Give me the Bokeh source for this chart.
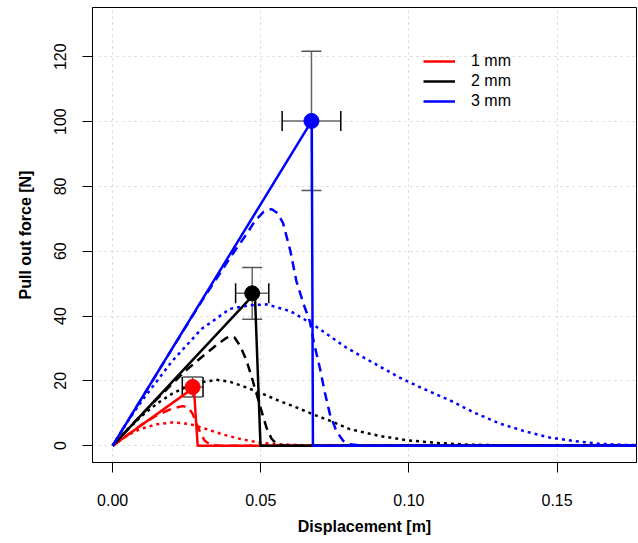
from bokeh.plotting import figure
from bokeh.models import (ColumnDataSource, Whisker, TeeHead, FixedTicker,
                          Legend, LegendItem, Range1d)
from bokeh.embed import file_html
from bokeh.resources import INLINE

# ---------------- data ----------------
x_ticks = [0.0, 0.05, 0.10, 0.15]
x_tick_labels = ["0.00", "0.05", "0.10", "0.15"]
y_ticks = [0, 20, 40, 60, 80, 100, 120]
y_tick_labels = ["0", "20", "40", "60", "80", "100", "120"]

series_names = ["1 mm", "2 mm", "3 mm"]
series_colors = ["red", "black", "blue"]

# solid lines (linear to peak, then drop)
solid_1_x = [0.0, 0.0274, 0.0287, 0.19]
solid_1_y = [0.0, 17.9, 0.0, 0.0]
solid_2_x = [0.0, 0.0480, 0.0499, 0.19]
solid_2_y = [0.0, 47.0, 0.0, 0.0]
solid_3_x = [0.0, 0.0672, 0.0676, 0.19]
solid_3_y = [0.0, 100.2, 0.0, 0.0]

# dashed curves
dashed_1_x = [0.0, 0.005, 0.010, 0.015, 0.020, 0.0235, 0.0255, 0.027, 0.0283, 0.0297, 0.0311, 0.033, 0.036, 0.19]
dashed_1_y = [0.0, 3.3, 6.6, 9.4, 11.4, 12.2, 11.8, 9.8, 6.7, 3.8, 1.5, 0.3, 0.0, 0.0]
dashed_2_x = [0.0, 0.010, 0.020, 0.025, 0.030, 0.035, 0.038, 0.0395, 0.0412, 0.0432, 0.0452, 0.0469, 0.0486, 0.0503, 0.0519, 0.0536, 0.0553, 0.058, 0.19]
dashed_2_y = [0.0, 9.8, 19.0, 23.4, 27.3, 31.0, 33.0, 33.8, 33.3, 30.5, 26.2, 21.2, 15.9, 10.5, 5.6, 2.2, 0.5, 0.0, 0.0]
dashed_3_x = [0.0, 0.010, 0.020, 0.030, 0.040, 0.045, 0.048, 0.051, 0.0536, 0.0556, 0.0575, 0.060, 0.062, 0.0645, 0.0665, 0.068, 0.0699, 0.0716, 0.0733, 0.0755, 0.0778, 0.080, 0.085, 0.19]
dashed_3_y = [0.0, 14.9, 29.8, 44.5, 58.5, 65.0, 69.3, 72.2, 73.0, 71.8, 68.7, 60.0, 50.8, 43.5, 38.5, 31.5, 24.1, 16.5, 9.8, 4.5, 1.5, 0.4, 0.0, 0.0]

# dotted curves
dotted_1_x = [0.0, 0.005, 0.0092, 0.015, 0.0204, 0.026, 0.0317, 0.037, 0.0429, 0.048, 0.0541, 0.065, 0.08, 0.19]
dotted_1_y = [0.0, 3.2, 5.1, 6.6, 7.2, 6.7, 5.1, 3.5, 2.1, 1.2, 0.5, 0.1, 0.0, 0.0]
dotted_2_x = [0.0, 0.005, 0.010, 0.015, 0.020, 0.025, 0.030, 0.035, 0.0396, 0.045, 0.0508, 0.056, 0.062, 0.0675, 0.0733, 0.080, 0.090, 0.100, 0.110, 0.120, 0.135, 0.19]
dotted_2_y = [0.0, 5.0, 9.3, 13.0, 16.0, 18.2, 19.6, 20.3, 19.7, 18.0, 15.9, 13.9, 11.8, 9.7, 7.7, 5.1, 3.0, 1.6, 0.8, 0.3, 0.05, 0.0]
dotted_3_x = [0.0, 0.005, 0.010, 0.020, 0.030, 0.0396, 0.046, 0.0519, 0.060, 0.0676, 0.0789, 0.090, 0.0969, 0.105, 0.1138, 0.122, 0.1307, 0.140, 0.1475, 0.156, 0.164, 0.172, 0.180, 0.19]
dotted_3_y = [0.0, 7.4, 14.0, 26.0, 36.0, 42.2, 43.3, 43.6, 41.5, 37.4, 30.2, 24.5, 21.0, 17.5, 14.0, 10.2, 6.8, 4.2, 2.5, 1.4, 0.6, 0.25, 0.1, 0.0]

# measured means with error bars
point_x = [0.0270, 0.0471, 0.0671]
point_y = [18.1, 47.0, 100.2]
point_x_err = [0.0035, 0.0056, 0.0099]
point_y_err = [3.1, 8.0, 21.5]

# ---------------- figure ----------------
FONT = "Liberation Sans"
p = figure(width=638, height=543, output_backend="svg", toolbar_location=None,
           x_range=Range1d(-0.0068, 0.1768), y_range=Range1d(-5.2, 135.2),
           min_border_left=92, min_border_right=2, min_border_top=7,
           min_border_bottom=81)
p.outline_line_color = "black"
p.outline_line_width = 1
p.background_fill_color = "white"
p.border_fill_color = "white"

for ax in (p.xaxis[0], p.yaxis[0]):
    ax.axis_line_color = "black"
    ax.major_tick_line_color = "black"
    ax.major_tick_out = 10
    ax.major_tick_in = 0
    ax.minor_tick_line_color = None
    ax.major_label_text_font = FONT
    ax.major_label_text_font_size = "16px"
    ax.major_label_text_color = "black"
    ax.axis_label_text_font = FONT
    ax.axis_label_text_font_size = "16px"
    ax.axis_label_text_font_style = "bold"
    ax.axis_label_text_color = "black"

p.xaxis.ticker = FixedTicker(ticks=x_ticks)
p.xaxis.major_label_overrides = dict(zip(x_ticks, x_tick_labels))
p.yaxis.ticker = FixedTicker(ticks=y_ticks)
p.yaxis.major_label_overrides = dict(zip(y_ticks, y_tick_labels))
p.yaxis.major_label_orientation = "vertical"
p.xaxis.axis_label = "Displacement [m]"
p.yaxis.axis_label = "Pull out force [N]"
p.xaxis.major_label_standoff = 21
p.xaxis.axis_label_standoff = 9
p.yaxis.major_label_standoff = 16
p.yaxis.axis_label_standoff = 18

for g in (p.xgrid[0], p.ygrid[0]):
    g.grid_line_color = "#d3d3d3"
    g.grid_line_dash = "2 4"
    g.grid_line_width = 1

LW = 2.5
solid = [(solid_1_x, solid_1_y), (solid_2_x, solid_2_y), (solid_3_x, solid_3_y)]
dashed = [(dashed_1_x, dashed_1_y), (dashed_2_x, dashed_2_y), (dashed_3_x, dashed_3_y)]
dotted = [(dotted_1_x, dotted_1_y), (dotted_2_x, dotted_2_y), (dotted_3_x, dotted_3_y)]

legend_renderers = []
for i, c in enumerate(series_colors):
    r = p.line(solid[i][0], solid[i][1], line_color=c, line_width=LW, line_join="round")
    legend_renderers.append(r)
    p.line(dashed[i][0], dashed[i][1], line_color=c, line_width=LW, line_dash="9 6")
    p.line(dotted[i][0], dotted[i][1], line_color=c, line_width=LW, line_dash="3 4")

# error bars
src = ColumnDataSource(dict(
    x=point_x, y=point_y,
    y_lo=[y - e for y, e in zip(point_y, point_y_err)],
    y_hi=[y + e for y, e in zip(point_y, point_y_err)],
    x_lo=[x - e for x, e in zip(point_x, point_x_err)],
    x_hi=[x + e for x, e in zip(point_x, point_x_err)],
    color=series_colors))

vw = Whisker(source=src, base="x", lower="y_lo", upper="y_hi", dimension="height",
             line_color="#666666", line_width=1.5,
             upper_head=TeeHead(size=20, line_color="#555555", line_width=1.5),
             lower_head=TeeHead(size=20, line_color="#555555", line_width=1.5))
hw = Whisker(source=src, base="y", lower="x_lo", upper="x_hi", dimension="width",
             line_color="#666666", line_width=1.5,
             upper_head=TeeHead(size=20, line_color="black", line_width=1.5),
             lower_head=TeeHead(size=20, line_color="black", line_width=1.5))
p.add_layout(vw)
p.add_layout(hw)

p.scatter("x", "y", source=src, size=15, fill_color="color", line_color="color")

legend = Legend(items=[LegendItem(label=n, renderers=[r]) for n, r in zip(series_names, legend_renderers)],
                location=(331, 351), label_text_font=FONT, label_text_font_size="16px",
                label_text_color="black",
                glyph_width=32, glyph_height=20, label_standoff=16, spacing=0,
                padding=0, margin=0, border_line_color=None, background_fill_alpha=0,
                label_height=20)
p.add_layout(legend)

open("out.html", "w").write(file_html(p, INLINE))
